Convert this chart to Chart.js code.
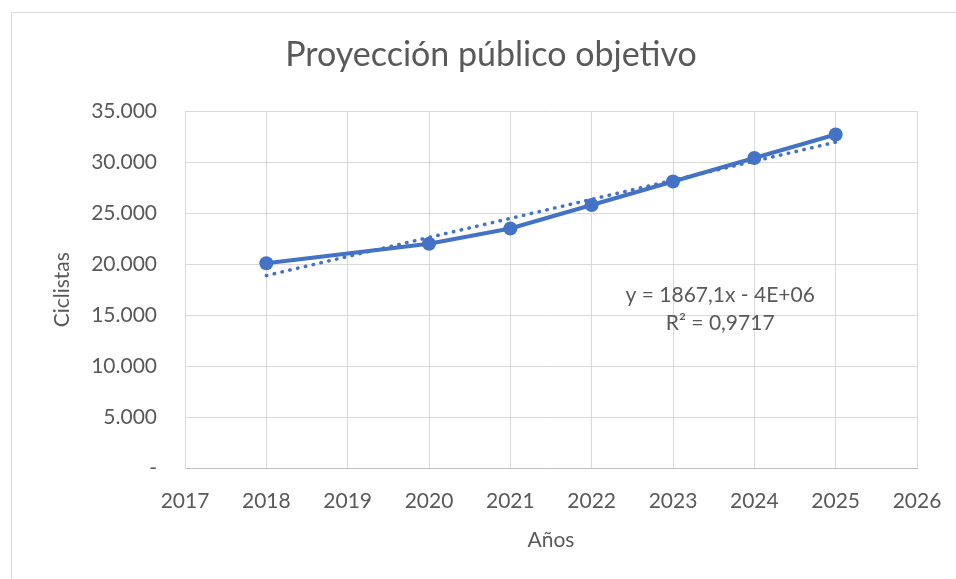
<!DOCTYPE html>
<html>
<head>
<meta charset="utf-8">
<script src="https://cdn.jsdelivr.net/npm/chart.js@4"></script>
<style>
  html, body { margin: 0; padding: 0; background: #fff; overflow: hidden; }
  #frame {
    position: absolute; left: 11px; top: 12px;
    width: 958px; height: 580px;
    border: 1px solid #d9d9d9;
    overflow: hidden;
  }
</style>
</head>
<body>
<div id="frame"><canvas id="chart" width="958" height="580"></canvas></div>
<script>
// datos
const years = [2018, 2020, 2021, 2022, 2023, 2024, 2025];
const ciclistas = [20100, 22000, 23500, 25800, 28100, 30400, 32700];

// línea de tendencia (extremos leídos)
const trendYears = [2018, 2025];
const trendValues = [18890, 31950];

const yTickLabels = ['-', '5.000', '10.000', '15.000', '20.000', '25.000', '30.000', '35.000'];
const trendText = ['y = 1867,1x - 4E+06', 'R² = 0,9717'];

const gray = '#595959';
const blue = '#4472C4';
const fontFamily = 'Lato, "Open Sans", sans-serif';

// etiqueta de la ecuación de tendencia
const trendLabel = {
    id: 'trendLabel',
    afterDatasetsDraw(chart) {
        const ctx = chart.ctx;
        const x = chart.scales.x.getPixelForValue(2023.58);
        const y = chart.scales.y.getPixelForValue(17000);
        ctx.save();
        ctx.fillStyle = gray;
        ctx.font = '21px ' + fontFamily;
        ctx.textAlign = 'center';
        ctx.textBaseline = 'middle';
        trendText.forEach((t, i) => ctx.fillText(t, x, y + i * 28));
        ctx.restore();
    }
};

new Chart(document.getElementById('chart'), {
    type: 'scatter',
    data: {
        datasets: [{
            label: 'Ciclistas',
            data: years.map((yr, i) => ({ x: yr, y: ciclistas[i] })),
            showLine: true,
            borderColor: blue,
            backgroundColor: blue,
            borderWidth: 4,
            pointRadius: 7,
            pointBorderWidth: 0,
            pointBackgroundColor: blue,
            tension: 0
        }, {
            label: 'Tendencia',
            data: trendYears.map((yr, i) => ({ x: yr, y: trendValues[i] })),
            showLine: true,
            borderColor: blue,
            borderWidth: 3.5,
            borderDash: [0.5, 7.5],
            borderCapStyle: 'round',
            pointRadius: 0
        }]
    },
    options: {
        responsive: false,
        animation: false,
        layout: { padding: 0 },
        plugins: {
            legend: { display: false },
            tooltip: { enabled: false },
            title: {
                display: true,
                text: 'Proyección público objetivo',
                color: gray,
                font: { family: fontFamily, size: 34, weight: 'normal' },
                padding: { top: 21.6, bottom: 35.6 }
            }
        },
        scales: {
            x: {
                type: 'linear',
                min: 2017,
                max: 2026,
                afterFit: s => { s.height = 124.5; },
                ticks: {
                    stepSize: 1,
                    color: gray,
                    padding: 20,
                    font: { family: fontFamily, size: 21 },
                    callback: v => String(v)
                },
                grid: { color: '#d9d9d9', lineWidth: 1, drawTicks: false },
                border: { color: '#bfbfbf', width: 1 },
                title: {
                    display: true,
                    text: 'Años',
                    color: gray,
                    font: { family: fontFamily, size: 21 },
                    padding: { top: 0, bottom: 40.4 }
                }
            },
            y: {
                min: 0,
                max: 35000,
                afterFit: s => { s.width = 173; },
                ticks: {
                    stepSize: 5000,
                    color: gray,
                    padding: 28,
                    font: { family: fontFamily, size: 21 },
                    callback: v => yTickLabels[Math.round(v / 5000)]
                },
                grid: { color: '#d9d9d9', lineWidth: 1, drawTicks: false },
                border: { color: '#d9d9d9', width: 1 },
                title: {
                    display: true,
                    text: 'Ciclistas',
                    color: gray,
                    font: { family: fontFamily, size: 21 },
                    padding: { top: 37.4, bottom: 0 }
                }
            },
            // margen derecho vacío para que el título quede centrado en todo el gráfico
            margen: {
                position: 'right',
                min: 0,
                max: 35000,
                afterFit: s => { s.width = 53; },
                ticks: { display: false },
                grid: { display: false, drawTicks: false },
                border: { display: false }
            }
        }
    },
    plugins: [trendLabel]
});
</script>
</body>
</html>
